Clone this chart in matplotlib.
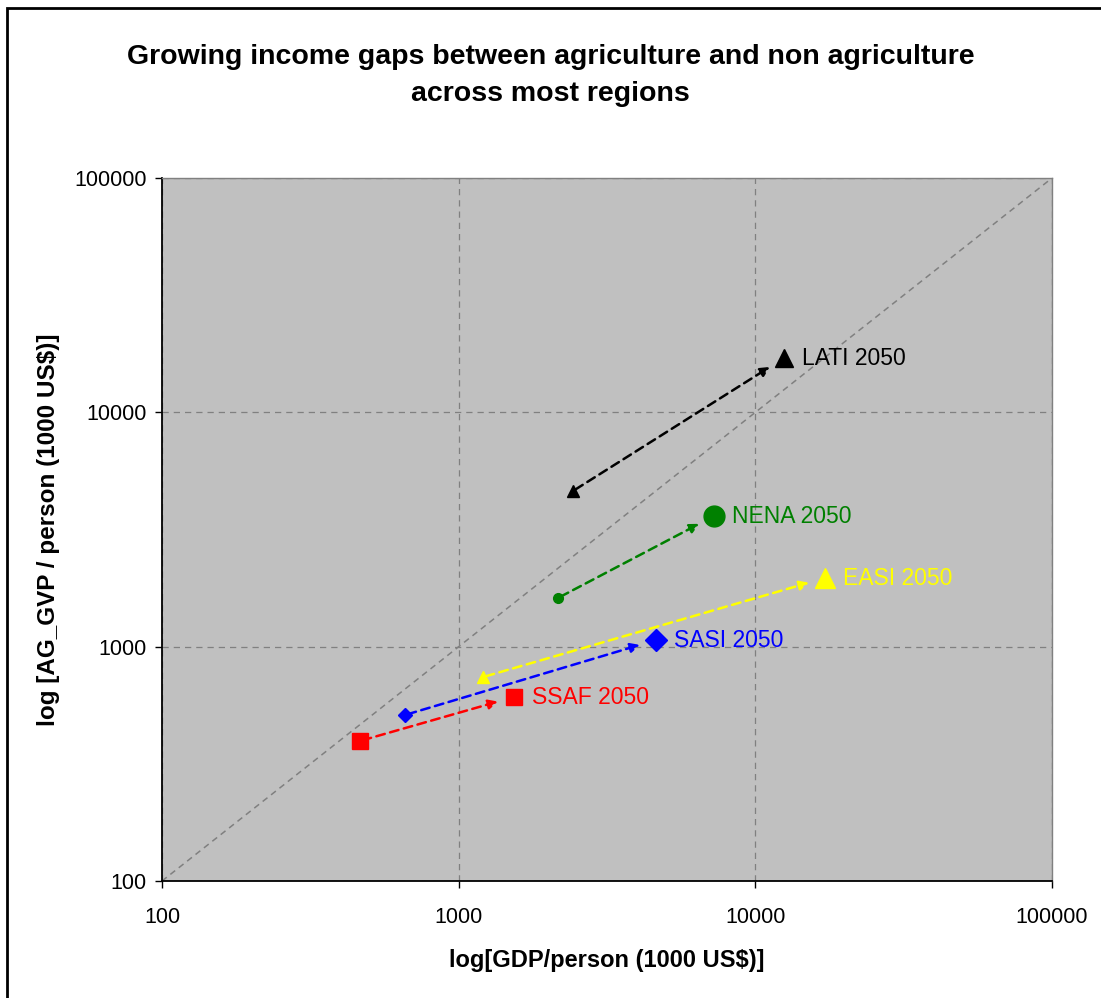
import numpy as np
import matplotlib.pyplot as plt
from matplotlib.patches import Rectangle

plt.rcParams['font.family'] = ['Liberation Sans', 'DejaVu Sans']

# GDP and agricultural GVP per person, current vs 2050
regions = ['SSAF', 'SASI', 'EASI', 'NENA', 'LATI']
colors = ['#FF0000', '#0000FF', '#FFFF00', '#008000', '#000000']
markers = ['s', 'D', '^', 'o', '^']
gdp_now = [465, 659, 1208, 2162, 2428]
ag_now = [396, 511, 742, 1614, 4617]
gdp_2050 = [1537, 4624, 17170, 7258, 12500]
ag_2050 = [610, 1067, 1964, 3610, 17060]
small_size = [12, 7, 9, 7, 8]
big_size = [12, 11, 14, 15, 13]

fig = plt.figure(figsize=(11.01, 9.98), dpi=100)
ax = fig.add_axes([0.1471, 0.1172, 0.8084, 0.7044])
ax.set_facecolor('#C0C0C0')
ax.set_xscale('log')
ax.set_yscale('log')
ax.set_xlim(100, 100000)
ax.set_ylim(100, 100000)

ax.grid(True, which='major', color='#808080', linestyle=(0, (5, 4)), linewidth=0.9)
ax.minorticks_off()
ax.plot([100, 100000], [100, 100000], color='#808080', linestyle=(0, (4, 3)), linewidth=1.1)

for i, name in enumerate(regions):
    c = colors[i]
    ax.plot(gdp_now[i], ag_now[i], marker=markers[i], color=c, markersize=small_size[i],
            linestyle='none', zorder=4)
    ax.plot(gdp_2050[i], ag_2050[i], marker=markers[i], color=c, markersize=big_size[i],
            linestyle='none', zorder=4)
    ax.annotate('', xy=(gdp_2050[i], ag_2050[i]), xytext=(gdp_now[i], ag_now[i]),
                arrowprops=dict(arrowstyle='-|>', color=c, linestyle=(0, (3.5, 2.2)),
                                linewidth=1.8, shrinkA=2, shrinkB=12, mutation_scale=14),
                zorder=3)
    ax.annotate(f'{name} 2050', xy=(gdp_2050[i], ag_2050[i]), xytext=(13, 0),
                textcoords='offset points', va='center', ha='left', color=c, fontsize=16.5)

ax.set_xticks([100, 1000, 10000, 100000])
ax.set_xticklabels(['100', '1000', '10000', '100000'])
ax.set_yticks([100, 1000, 10000, 100000])
ax.set_yticklabels(['100', '1000', '10000', '100000'])
ax.tick_params(axis='both', labelsize=15.5, color='#000000', length=5, width=1)
ax.tick_params(axis='x', pad=14)
ax.tick_params(axis='y', pad=6)

for side in ['left', 'bottom']:
    ax.spines[side].set_color('#000000')
    ax.spines[side].set_linewidth(1.3)
for side in ['top', 'right']:
    ax.spines[side].set_color('#808080')
    ax.spines[side].set_linewidth(1.0)

ax.set_xlabel('log[GDP/person (1000 US$)]', fontsize=17, fontweight='bold', labelpad=15)
ax.set_ylabel('log [AG_GVP / person (1000 US$)]', fontsize=17.5, fontweight='bold', labelpad=10)

fig.text(0.5, 0.924, 'Growing income gaps between agriculture and non agriculture\nacross most regions',
         ha='center', va='center', fontsize=20.5, fontweight='bold', linespacing=1.55)

# outer chart frame
fig.patches.append(Rectangle((7 / 1101, -0.05), 1.1, 1 - 8 / 998 + 0.05, transform=fig.transFigure,
                             fill=False, edgecolor='#000000', linewidth=2))

fig.savefig('out.png', dpi=100)
